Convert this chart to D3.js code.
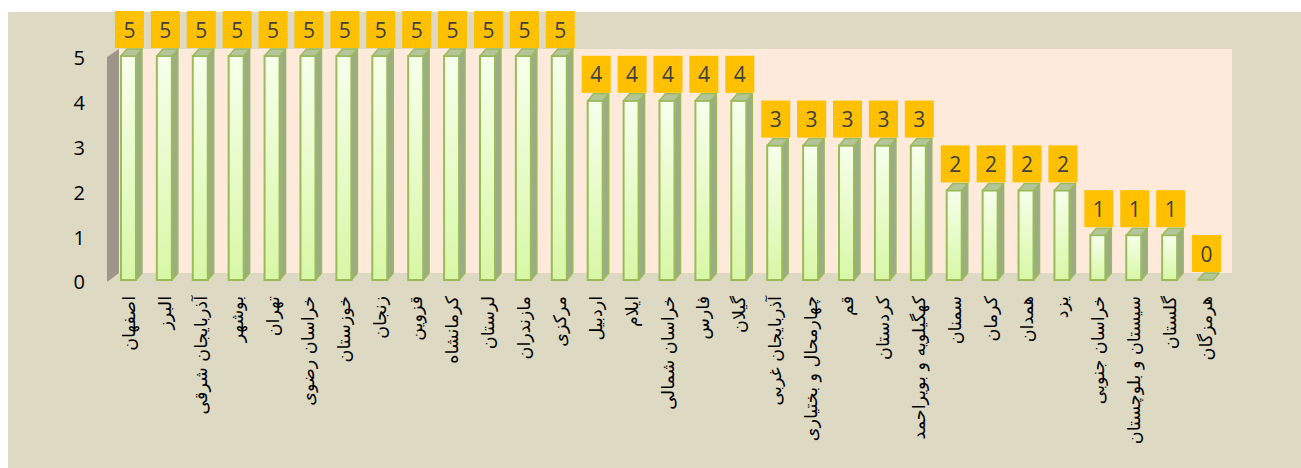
<!DOCTYPE html>
<html>
<head>
<meta charset="utf-8">
<script src="https://cdn.jsdelivr.net/npm/d3@7"></script>
<style>
  html, body { margin: 0; padding: 0; background: #ffffff; }
  svg { display: block; }
</style>
</head>
<body>
<div id="chart"></div>
<script>
// ******* DATA *******
const provinces = ['اصفهان', 'البرز', 'آذربایجان شرقی', 'بوشهر', 'تهران', 'خراسان رضوی', 'خوزستان',
    'زنجان', 'قزوین', 'کرمانشاه', 'لرستان', 'مازندران', 'مرکزی', 'اردبیل', 'ایلام', 'خراسان شمالی',
    'فارس', 'گیلان', 'آذربایجان غربی', 'چهارمحال و بختیاری', 'قم', 'کردستان', 'کهگیلویه و بویراحمد',
    'سمنان', 'کرمان', 'همدان', 'یزد', 'خراسان جنوبی', 'سیستان و بلوچستان', 'گلستان', 'هرمزگان'];
const counts = [5, 5, 5, 5, 5, 5, 5, 5, 5, 5, 5, 5, 5, 4, 4, 4, 4, 4, 3, 3, 3, 3, 3, 2, 2, 2, 2, 1, 1, 1, 0];
const yTicks = [0, 1, 2, 3, 4, 5];

// ******* SIZES *******
const width = 1301, height = 468;
const barW = 15;          // front face width
const depthX = 6, depthY = 7;  // fake 3d offset

const svg = d3.select("#chart").append("svg")
    .attr("width", width)
    .attr("height", height);

// gradient for bar front
const defs = svg.append("defs");
const grad = defs.append("linearGradient")
    .attr("id", "barGrad")
    .attr("x1", 0).attr("y1", 0).attr("x2", 0).attr("y2", 1);
grad.append("stop").attr("offset", "0%").attr("stop-color", "#f7ffec");
grad.append("stop").attr("offset", "100%").attr("stop-color", "#d8f7a6");

// chart background
svg.append("rect")
    .attr("x", 8).attr("y", 12)
    .attr("width", width - 8).attr("height", height - 12)
    .attr("fill", "#ddd9c3");

// scales
const x = d3.scaleBand()
    .domain(provinces)
    .range([113, 1226]);

const y = d3.scaleLinear()
    .domain([0, 5])
    .range([280, 56]);

const frontX = d => x(d) + (x.bandwidth() - barW) / 2 - 2.5;

// back wall
const wallLeft = 119, wallRight = 1232;
svg.append("rect")
    .attr("x", wallLeft)
    .attr("y", y(5) - depthY)
    .attr("width", wallRight - wallLeft)
    .attr("height", y(0) - y(5))
    .attr("fill", "#fdeada");

// side wall
svg.append("polygon")
    .attr("points", [
        [wallLeft - 12, y(0) + 2],
        [wallLeft - 12, y(5) + 1],
        [wallLeft, y(5) - depthY],
        [wallLeft, y(0) - depthY]
    ].map(p => p.join(",")).join(" "))
    .attr("fill", "#a0958a");

// y axis labels
svg.append("g")
    .selectAll("text")
    .data(yTicks)
    .join("text")
    .attr("x", 85)
    .attr("y", d => y(d) + 4)
    .attr("text-anchor", "end")
    .attr("dominant-baseline", "middle")
    .attr("font-family", "'Open Sans', sans-serif")
    .attr("font-size", 20)
    .attr("fill", "#000")
    .text(d => d);

// bars
const bars = svg.append("g")
    .selectAll("g")
    .data(provinces.map((p, i) => ({ name: p, value: counts[i] })))
    .join("g");

bars.each(function (d) {
    const g = d3.select(this);
    const fx = frontX(d.name);
    const top = y(d.value), base = y(0);

    if (d.value > 0) {
        // side face
        g.append("polygon")
            .attr("points", [[fx + barW, top], [fx + barW + depthX, top - depthY],
                [fx + barW + depthX, base - depthY], [fx + barW, base]].map(p => p.join(",")).join(" "))
            .attr("fill", "#9dac88")
            .attr("stroke", "#9bbb59")
            .attr("stroke-width", 1.5)
            .attr("stroke-linejoin", "round");
        // front face
        g.append("rect")
            .attr("x", fx).attr("y", top)
            .attr("width", barW).attr("height", base - top)
            .attr("fill", "url(#barGrad)")
            .attr("stroke", "#9bbb59")
            .attr("stroke-width", 2);
    }
    // top face
    g.append("polygon")
        .attr("points", [[fx, top], [fx + depthX, top - depthY],
            [fx + barW + depthX, top - depthY], [fx + barW, top]].map(p => p.join(",")).join(" "))
        .attr("fill", "#b4c59c")
        .attr("stroke", "#9bbb59")
        .attr("stroke-width", 1.5)
        .attr("stroke-linejoin", "round");

    // value label box
    const cx = fx + 8.5;
    g.append("rect")
        .attr("x", cx - 14.5)
        .attr("y", top - 8 - 37)
        .attr("width", 29).attr("height", 37)
        .attr("fill", "#ffc000");
    g.append("text")
        .attr("x", cx)
        .attr("y", top - 8 - 18.5)
        .attr("text-anchor", "middle")
        .attr("dominant-baseline", "central")
        .attr("font-family", "'Open Sans', sans-serif")
        .attr("font-size", 21)
        .attr("fill", "#404040")
        .text(d.value);

    // category label, vertical
    g.append("text")
        .attr("transform", `translate(${fx + 8},${296}) rotate(-90)`)
        .attr("text-anchor", "end")
        .attr("dominant-baseline", "central")
        .attr("font-family", "'DejaVu Sans', sans-serif")
        .attr("font-size", 17.5)
        .attr("fill", "#000")
        .text(d.name);
});
</script>
</body>
</html>
